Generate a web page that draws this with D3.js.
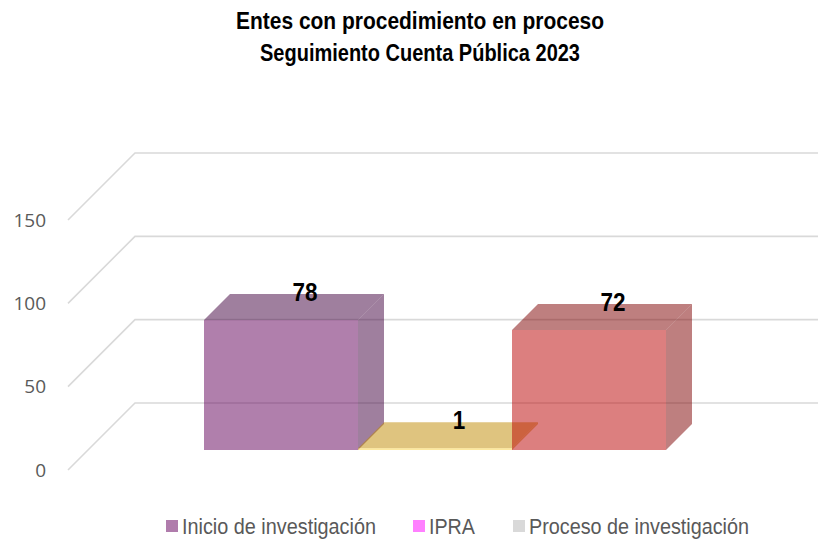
<!DOCTYPE html>
<html>
<head>
<meta charset="utf-8">
<script src="https://cdn.jsdelivr.net/npm/d3@7"></script>
<style>
  body { margin: 0; background: #fff; }
  svg { display: block; }
</style>
</head>
<body>
<div class="chart__container"></div>
<script>
/*---------------------------Init---------------------------*/

const CHART__WIDTH = 818;
const CHART__HEIGHT = 539;

// data
const TITLE_LINES = ["Entes con procedimiento en proceso", "Seguimiento Cuenta Pública 2023"];
const SERIES = ["Inicio de investigación", "IPRA", "Proceso de investigación"];
const VALUES = [78, 1, 72];
const Y_TICKS = [0, 50, 100, 150];

// styles
const LEGEND_COLORS = ["#B07CAC", "#FF80FF", "#D9D9D9"];
const FRONT_COLORS = ["#610059", "#FBD341", "#B90000"];
const SHADE_COLORS = ["#3F003D", "#BF8900", "#7D0000"];
const BAR_OPACITY = 0.5;
const FONT = "'Liberation Sans', Arial, sans-serif";

// 3d geometry: a point at depth z is shifted by (+z, -z)
const DEPTH = 67;
const BAR_Z0 = 20;
const BAR_Z1 = 46;
const PLOT = { left: 68, right: 751 };

const yScale = d3.scaleLinear().domain([0, 150]).range([470, 220]);
const xScale = d3.scaleBand().domain(SERIES).range([184, 646]).paddingInner(0).paddingOuter(0);

const P = (x, y, z) => [x + z, y - z];
const poly = pts => "M" + pts.map(p => p.join(",")).join("L") + "Z";

/*---------------------------Draw---------------------------*/

const svg = d3.select(".chart__container").append("svg")
    .attr("width", CHART__WIDTH)
    .attr("height", CHART__HEIGHT);

//title (condensed face, squeezed to the reference width)

const TITLE_WIDTHS = [368, 320];
const TITLE_BASE = [29, 61];

svg.append("g")
    .selectAll("text")
    .data(TITLE_LINES)
    .enter()
    .append("text")
    .attr("x", 420)
    .attr("y", (d, i) => TITLE_BASE[i])
    .attr("text-anchor", "middle")
    .attr("textLength", (d, i) => TITLE_WIDTHS[i])
    .attr("lengthAdjust", "spacingAndGlyphs")
    .style("font-family", FONT)
    .style("font-weight", "bold")
    .style("font-size", "23px")
    .attr("fill", "#000")
    .text(d => d);

//gridlines (back wall + left side wall)

const grid = svg.append("g");

Y_TICKS.forEach(t => {
    const y = yScale(t);
    const a = P(PLOT.left, y, 0);
    const b = P(PLOT.left, y, DEPTH);
    const c = [CHART__WIDTH, b[1]];
    grid.append("path")
        .attr("d", `M${a}L${b}L${c}`)
        .attr("fill", "none")
        .attr("stroke", "#D9D9D9")
        .attr("stroke-width", 1.6);
});

//y-axis labels

svg.append("g")
    .selectAll("text")
    .data(Y_TICKS)
    .enter()
    .append("text")
    .attr("x", 46)
    .attr("y", d => yScale(d))
    .attr("dy", "0.35em")
    .attr("text-anchor", "end")
    .style("font-family", "'Open Sans', sans-serif")
    .style("font-size", "19px")
    .attr("fill", "#595959")
    .text(d => d);

//bars

const bars = svg.append("g");

SERIES.forEach((s, i) => {
    const x0 = xScale(s);
    const x1 = x0 + xScale.bandwidth();
    const yb = yScale(0);
    const yt = yScale(VALUES[i]);
    const g = bars.append("g").attr("fill-opacity", BAR_OPACITY);

    // right side
    g.append("path")
        .attr("d", poly([P(x1, yb, BAR_Z0), P(x1, yt, BAR_Z0), P(x1, yt, BAR_Z1), P(x1, yb, BAR_Z1)]))
        .attr("fill", SHADE_COLORS[i]);
    // top
    g.append("path")
        .attr("d", poly([P(x0, yt, BAR_Z0), P(x1, yt, BAR_Z0), P(x1, yt, BAR_Z1), P(x0, yt, BAR_Z1)]))
        .attr("fill", SHADE_COLORS[i]);
    // front
    g.append("path")
        .attr("d", poly([P(x0, yb, BAR_Z0), P(x1, yb, BAR_Z0), P(x1, yt, BAR_Z0), P(x0, yt, BAR_Z0)]))
        .attr("fill", FRONT_COLORS[i]);
});

//value labels

svg.append("g")
    .selectAll("text")
    .data(VALUES)
    .enter()
    .append("text")
    .attr("x", (d, i) => P(xScale(SERIES[i]) + xScale.bandwidth() / 2, yScale(d), BAR_Z1)[0] - 2)
    .attr("y", (d, i) => P(0, yScale(d), BAR_Z1)[1] + 7)
    .attr("text-anchor", "middle")
    .attr("textLength", d => String(d).length * 12.5)
    .attr("lengthAdjust", "spacingAndGlyphs")
    .style("font-family", FONT)
    .style("font-weight", "bold")
    .style("font-size", "25px")
    .attr("fill", "#000")
    .text(d => d);

//legend

const LEGEND_X = [166, 413, 513];
const LEGEND_TEXT_W = [194, 46, 220];
const legend = svg.append("g");

SERIES.forEach((s, i) => {
    legend.append("rect")
        .attr("x", LEGEND_X[i])
        .attr("y", 520)
        .attr("width", 12)
        .attr("height", 12)
        .attr("fill", LEGEND_COLORS[i]);
    legend.append("text")
        .attr("x", LEGEND_X[i] + 16)
        .attr("y", 534)
        .attr("textLength", LEGEND_TEXT_W[i])
        .attr("lengthAdjust", "spacingAndGlyphs")
        .style("font-family", FONT)
        .style("font-size", "22px")
        .attr("fill", "#595959")
        .text(s);
});
</script>
</body>
</html>
